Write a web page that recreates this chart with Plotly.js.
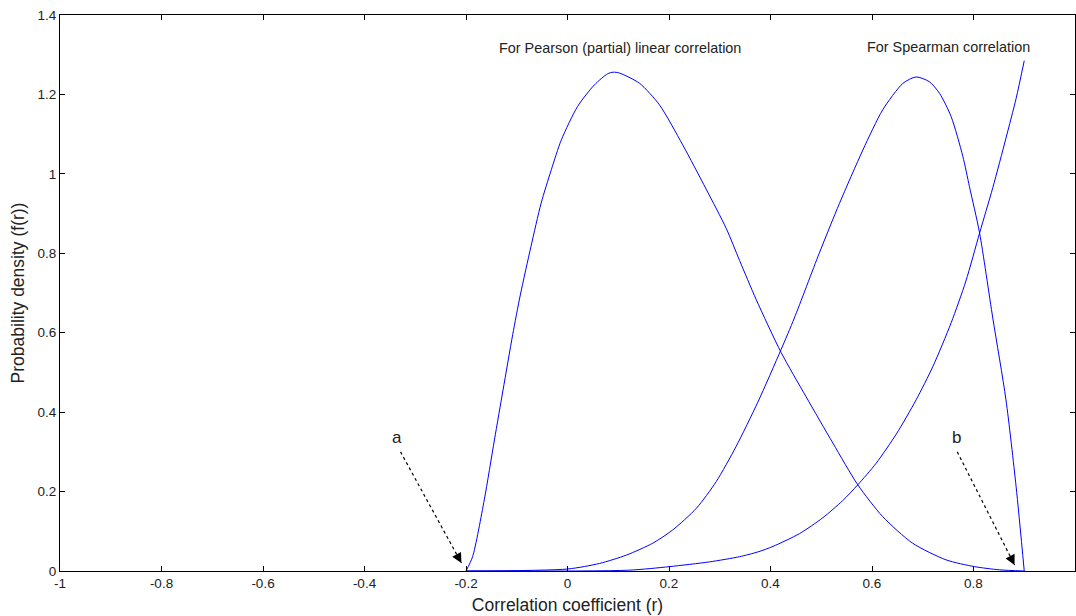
<!DOCTYPE html>
<html>
<head>
<meta charset="utf-8">
<script src="https://cdn.plot.ly/plotly-3.0.1.min.js"></script>
<style>html,body{margin:0;padding:0;background:#fff}#chart{width:1076px;height:616px}</style>
</head>
<body>
<div id="chart"></div>
<script>
// Pearson (partial) linear correlation density
const pearsonX = [-0.2, -0.187, -0.164, -0.144, -0.127, -0.108, -0.093, -0.072, -0.052, -0.032, -0.012, 0.02, 0.053, 0.079, 0.09, 0.102, 0.142, 0.181, 0.227, 0.273, 0.313, 0.339, 0.372, 0.421, 0.47, 0.523, 0.572, 0.621, 0.68, 0.746, 0.802, 0.851, 0.9];
const pearsonY = [0, 0.036, 0.179, 0.33, 0.456, 0.595, 0.695, 0.817, 0.926, 1.01, 1.086, 1.17, 1.224, 1.252, 1.256, 1.254, 1.228, 1.174, 1.073, 0.962, 0.862, 0.782, 0.683, 0.55, 0.439, 0.322, 0.217, 0.137, 0.07, 0.028, 0.011, 0.003, 0];
// Spearman correlation density
const spearmanX = [-0.2, 0, 0.063, 0.116, 0.168, 0.207, 0.254, 0.293, 0.332, 0.375, 0.421, 0.447, 0.496, 0.536, 0.582, 0.621, 0.661, 0.687, 0.713, 0.733, 0.756, 0.779, 0.792, 0.812, 0.838, 0.864, 0.884, 0.9];
const spearmanY = [0, 0.005, 0.019, 0.04, 0.07, 0.103, 0.158, 0.225, 0.313, 0.425, 0.558, 0.637, 0.8, 0.926, 1.06, 1.161, 1.228, 1.244, 1.232, 1.203, 1.144, 1.044, 0.968, 0.851, 0.637, 0.431, 0.212, 0];
// Third (rising) density
const risingX = [-0.2, 0.12, 0.201, 0.28, 0.339, 0.375, 0.405, 0.457, 0.503, 0.542, 0.572, 0.608, 0.648, 0.687, 0.72, 0.756, 0.785, 0.812, 0.838, 0.864, 0.884, 0.9];
const risingY = [0, 0.002, 0.011, 0.023, 0.036, 0.048, 0.062, 0.094, 0.134, 0.177, 0.217, 0.271, 0.345, 0.431, 0.515, 0.625, 0.73, 0.851, 0.965, 1.09, 1.19, 1.285];

const xTicks = [-1, -0.8, -0.6, -0.4, -0.2, 0, 0.2, 0.4, 0.6, 0.8, 1];
const yTicks = [0, 0.2, 0.4, 0.6, 0.8, 1, 1.2, 1.4];

const curveLabels = ["For Pearson (partial) linear correlation", "For Spearman correlation"];
const curveLabelX = [0.104, 0.751];
const curveLabelY = [1.317, 1.32];

const pointerText = ["a", "b"];
const pointerTextX = [-0.335, 0.766];
const pointerTextY = [0.335, 0.335];
const pointerTailX = [-0.329, 0.768];
const pointerTailY = [0.30, 0.30];
const pointerTipX = [-0.209, 0.881];
const pointerTipY = [0.02, 0.015];

const lineStyle = {color: '#0000ff', width: 1, shape: 'spline', smoothing: 0.7};
const traces = [
  {x: pearsonX, y: pearsonY, mode: 'lines', line: lineStyle, hoverinfo: 'skip'},
  {x: spearmanX, y: spearmanY, mode: 'lines', line: lineStyle, hoverinfo: 'skip'},
  {x: risingX, y: risingY, mode: 'lines', line: lineStyle, hoverinfo: 'skip'}
];

const font = 'Liberation Sans, Arial, sans-serif';
const annotations = [];
const shapes = [];
curveLabels.forEach((t, i) => {
  annotations.push({x: curveLabelX[i], y: curveLabelY[i], xref: 'x', yref: 'y', text: t,
    showarrow: false, font: {family: font, size: 14.4, color: '#222'}});
});
pointerText.forEach((t, i) => {
  annotations.push({x: pointerTextX[i], y: pointerTextY[i], xref: 'x', yref: 'y', text: t,
    showarrow: false, font: {family: font, size: 17, color: '#222'}});
  shapes.push({type: 'line', xref: 'x', yref: 'y', x0: pointerTailX[i], y0: pointerTailY[i],
    x1: pointerTipX[i], y1: pointerTipY[i], line: {color: '#000', width: 1.2, dash: 'dot'}});
  annotations.push({x: pointerTipX[i], y: pointerTipY[i], xref: 'x', yref: 'y', text: '',
    showarrow: true, arrowhead: 2, arrowsize: 2, arrowwidth: 1, arrowcolor: '#000',
    axref: 'x', ayref: 'y',
    ax: pointerTipX[i] - (pointerTipX[i] - pointerTailX[i]) * 0.06,
    ay: pointerTipY[i] - (pointerTipY[i] - pointerTailY[i]) * 0.06});
});

const axisCommon = {
  showline: true, linecolor: '#000', linewidth: 1, mirror: 'ticks',
  ticks: 'inside', ticklen: 5, tickcolor: '#000', tickwidth: 1,
  showgrid: false, zeroline: false,
  tickfont: {family: font, size: 13.5, color: '#222'}
};

const layout = {
  width: 1076, height: 616,
  margin: {l: 60, r: 1, t: 15, b: 45},
  paper_bgcolor: '#fff', plot_bgcolor: '#fff',
  showlegend: false,
  xaxis: Object.assign({}, axisCommon, {
    range: [-1, 1], tickvals: xTicks, ticktext: xTicks.map(String),
    title: {text: 'Correlation coefficient (r)', font: {family: font, size: 17.5, color: '#222'}, standoff: 8}
  }),
  yaxis: Object.assign({}, axisCommon, {
    range: [0, 1.4], tickvals: yTicks, ticktext: yTicks.map(String),
    title: {text: 'Probability density (f(r))', font: {family: font, size: 17.5, color: '#222'}, standoff: 8}
  }),
  annotations: annotations,
  shapes: shapes
};

Plotly.newPlot('chart', traces, layout, {displayModeBar: false, staticPlot: true});
</script>
</body>
</html>
